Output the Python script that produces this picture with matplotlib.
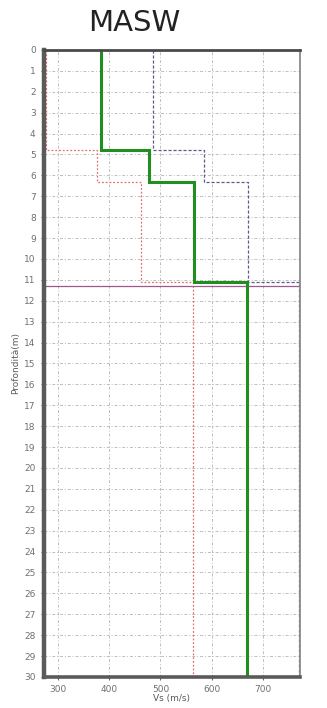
import numpy as np
import matplotlib.pyplot as plt

# layer boundaries (m) and shear-wave velocities (m/s)
depths = [0, 4.8, 6.3, 11.1, 30]
vs_best = [383, 477, 566, 669]
vs_min = [275, 376, 462, 563]
vs_max = [485, 586, 671, 771]
half_space = 11.3

x_ticks = [300, 400, 500, 600, 700]
y_ticks = list(range(0, 31))


def profile(vals, dep):
    xs = np.repeat(vals, 2)
    ys = np.array([dep[0]] + [d for d in dep[1:-1] for _ in range(2)] + [dep[-1]])
    return xs, ys


fig = plt.figure(figsize=(3.27, 7.08), dpi=100)
ax = fig.add_axes([0.1346, 0.0438, 0.7824, 0.8856])

ax.set_xlim(272, 773)
ax.set_ylim(30, 0)
ax.set_xticks(x_ticks)
ax.set_yticks(y_ticks)
ax.grid(True, color='#bdbdbd', linestyle=(0, (3, 2, 1, 2)), linewidth=0.7)

xs, ys = profile(vs_min, depths)
ax.plot(xs, ys, color='#e07070', linestyle=(0, (1.5, 1.5)), linewidth=0.9)
xs, ys = profile(vs_max, depths)
ax.plot(xs, ys, color='#5c5c8c', linestyle=(0, (2.5, 1.5)), linewidth=0.9)
ax.axhline(half_space, color='#9c5a8c', linewidth=0.9)
xs, ys = profile(vs_best, depths)
ax.plot(xs, ys, color='#1f8f1f', linewidth=2.2, solid_joinstyle='miter')

for side, lw, col in [('left', 3.2, '#5a5a5a'), ('bottom', 2.6, '#5a5a5a'),
                      ('top', 2.0, '#4a4a4a'), ('right', 1.3, '#8a8a8a')]:
    ax.spines[side].set_linewidth(lw)
    ax.spines[side].set_color(col)

ax.tick_params(axis='both', labelsize=6.5, labelcolor='#707070', color='#6a6a6a',
               length=2, width=0.8, pad=4)
ax.set_xlabel('Vs (m/s)', fontsize=6.5, color='#5a5a5a', labelpad=0)
ax.set_ylabel('Profondità(m)', fontsize=6.5, color='#5a5a5a', labelpad=3)

fig.text(0.41, 0.967, 'MASW', fontsize=21, color='#222222', ha='center', va='center')

fig.savefig('out.png', dpi=100)
